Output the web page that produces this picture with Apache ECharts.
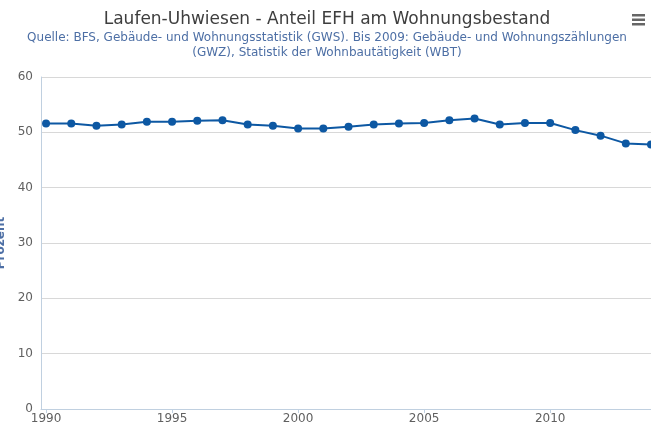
<!DOCTYPE html>
<html style="height: 100%">
<head>
<meta charset="utf-8">
</head>
<body style="height: 100%; margin: 0">
	<div id="container" style="width: 651px; height: 426px"></div>
	<script type="text/javascript" src="https://cdn.jsdelivr.net/npm/echarts@6/dist/echarts.min.js"></script>
	<script type="text/javascript">
		// Anteil EFH am Wohnungsbestand, Laufen-Uhwiesen
		var years = [1990, 1991, 1992, 1993, 1994, 1995, 1996, 1997, 1998, 1999, 2000, 2001, 2002,
			2003, 2004, 2005, 2006, 2007, 2008, 2009, 2010, 2011, 2012, 2013, 2014];
		var anteil = [51.6, 51.6, 51.2, 51.4, 51.9, 51.9, 52.1, 52.2, 51.4, 51.2, 50.7, 50.7, 51.0,
			51.4, 51.6, 51.7, 52.2, 52.5, 51.4, 51.7, 51.7, 50.4, 49.4, 48.0, 47.8];
		var xTicks = [1990, 1995, 2000, 2005, 2010];

		var font = '"Lucida Grande", "DejaVu Sans", sans-serif';
		var dom = document.getElementById("container");
		var myChart = echarts.init(dom);

		var points = [];
		for (var i = 0; i < years.length; i++) {
			points.push([years[i], anteil[i]]);
		}

		var option = {
			animation: false,
			title: {
				text: 'Laufen-Uhwiesen - Anteil EFH am Wohnungsbestand',
				subtext: 'Quelle: BFS, Gebäude- und Wohnungsstatistik (GWS). Bis 2009: Gebäude- und Wohnungszählungen\n(GWZ), Statistik der Wohnbautätigkeit (WBT)',
				left: 322,
				textAlign: 'center',
				top: 6,
				itemGap: 2,
				textStyle: { fontFamily: font, fontSize: 17, fontWeight: 'normal', color: '#3e3e3e' },
				subtextStyle: { fontFamily: font, fontSize: 12, color: '#4d6fa5', lineHeight: 15 }
			},
			grid: { left: 41, right: 0, top: 77, bottom: 17, outerBoundsMode: 'none' },
			xAxis: {
				type: 'value',
				min: 1989.8,
				max: 2014,
				splitLine: { show: false },
				axisLine: { lineStyle: { color: '#c0d0e0' } },
				axisTick: { show: true, customValues: xTicks, length: 4, lineStyle: { color: '#c0d0e0' } },
				axisLabel: {
					customValues: xTicks,
					formatter: function (v) { return String(v); },
					fontFamily: font, fontSize: 12, color: '#606060', margin: 4
				}
			},
			yAxis: {
				type: 'value',
				min: 0,
				max: 60,
				interval: 10,
				name: 'Prozent',
				nameLocation: 'middle',
				nameGap: 34,
				nameTextStyle: { fontFamily: font, fontSize: 12, fontWeight: 'bold', color: '#4d6fa5' },
				axisLine: { show: true, lineStyle: { color: '#c0d0e0' } },
				axisTick: { show: false },
				splitLine: { lineStyle: { color: '#d8d8d8' } },
				axisLabel: { fontFamily: font, fontSize: 12, color: '#606060', margin: 8 }
			},
			series: [{
				type: 'line',
				data: points,
				symbol: 'circle',
				symbolSize: 8,
				lineStyle: { color: '#0d58a3', width: 2 },
				itemStyle: { color: '#0d58a3' }
			}],
			graphic: [
				{ type: 'rect', shape: { x: 632, y: 14, width: 13, height: 2.5 }, style: { fill: '#666' } },
				{ type: 'rect', shape: { x: 632, y: 18.5, width: 13, height: 2.5 }, style: { fill: '#666' } },
				{ type: 'rect', shape: { x: 632, y: 23, width: 13, height: 2.5 }, style: { fill: '#666' } }
			]
		};

		myChart.setOption(option, true);
	</script>
</body>
</html>
